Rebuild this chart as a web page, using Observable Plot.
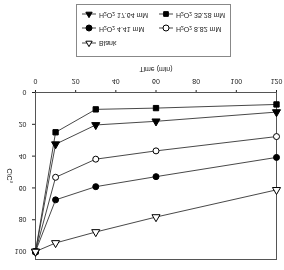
<!DOCTYPE html>
<html>
<head>
<meta charset="utf-8">
<script src="https://cdn.jsdelivr.net/npm/d3@7"></script>
<script src="https://cdn.jsdelivr.net/npm/@observablehq/plot@0.6"></script>
<style>
  html, body { margin: 0; padding: 0; background: #fff; overflow: hidden; }
  #wrap { position: relative; width: 284px; height: 270px; transform: scaleY(-1); font-family: "Liberation Sans", Arial, sans-serif; color: #222; }
  #chart { position: absolute; left: 0; top: 0; }
  #legend { position: absolute; left: 76px; top: 213px; width: 155px; height: 53px; border: 1px solid #888; box-sizing: border-box; background: #fff; }
  .item { position: absolute; display: flex; align-items: center; font-size: 7px; white-space: nowrap; line-height: 8px; }
  .item svg { margin-right: 3px; }
  sub { font-size: 5px; vertical-align: -1px; }
</style>
</head>
<body>
<div id="wrap">
  <div id="chart"></div>
  <div id="legend"></div>
</div>
<script>
// Data
const times = [0, 10, 30, 60, 120];
const seriesNames = ["H2O2 35.28 mM", "H2O2 17.64 mM", "H2O2 8.82 mM", "H2O2 4.41 mM", "Blank"];
const vals3528 = [100, 25.0, 10.6, 9.8, 7.5];
const vals1764 = [100, 32.5, 20.4, 18.1, 12.3];
const vals882  = [100, 53.3, 41.9, 36.7, 27.7];
const vals441  = [100, 67.5, 59.2, 52.9, 40.8];
const valsBlank = [100, 94.6, 87.7, 78.3, 61.2];
const xTicks = [0, 20, 40, 60, 80, 100, 120];
const yTicks = [0, 20, 40, 60, 80, 100];

// Styles
const seriesValues = [vals3528, vals1764, vals882, vals441, valsBlank];
const symbols = ["square", "triangle", "circle", "circle", "triangle"];
const fills = ["#000", "#000", "#fff", "#000", "#fff"];

const rows = [];
seriesNames.forEach((s, i) => {
  times.forEach((t, j) => rows.push({s, t, v: seriesValues[i][j], f: fills[i]}));
});

const chart = Plot.plot({
  width: 284,
  height: 210,
  marginLeft: 35,
  marginRight: 8,
  marginTop: 10,
  marginBottom: 33,
  style: {fontFamily: "'Liberation Sans', Arial, sans-serif", fontSize: "7px", background: "#fff", color: "#222"},
  x: {domain: [0, 120], ticks: xTicks, tickSize: 3, label: "Time (min)", labelAnchor: "center", labelArrow: "none", labelOffset: 25},
  y: {domain: [0, 105], ticks: yTicks, tickSize: 3, label: "C/C₀", labelAnchor: "center", labelArrow: "none", labelOffset: 28},
  symbol: {domain: seriesNames, range: symbols},
  color: {type: "identity"},
  marks: [
    Plot.frame({stroke: "#555"}),
    Plot.line(rows, {x: "t", y: "v", z: "s", stroke: "#333", strokeWidth: 0.9}),
    Plot.dot(rows, {x: "t", y: "v", symbol: "s", fill: "f", stroke: "#000", strokeWidth: 1, r: 3})
  ]
});
document.getElementById("chart").appendChild(chart);

// Legend
const symMap = {square: d3.symbolSquare2, triangle: d3.symbolTriangle2, circle: d3.symbolCircle};
const legendLayout = [
  {i: 4, left: 5, top: 9},
  {i: 3, left: 5, top: 23}, {i: 2, left: 82, top: 23},
  {i: 1, left: 5, top: 37}, {i: 0, left: 82, top: 37}
];
const legend = document.getElementById("legend");
legendLayout.forEach(({i, left, top}) => {
  const div = document.createElement("div");
  div.className = "item";
  div.style.left = left + "px";
  div.style.top = top + "px";
  const svg = d3.create("svg").attr("width", 14).attr("height", 8);
  svg.append("line").attr("x1", 0).attr("x2", 14).attr("y1", 4).attr("y2", 4).attr("stroke", "#333").attr("stroke-width", 0.9);
  svg.append("path").attr("transform", "translate(7,4)")
    .attr("d", d3.symbol(symMap[symbols[i]], Math.PI * 9)())
    .attr("fill", fills[i]).attr("stroke", "#000").attr("stroke-width", 1);
  div.appendChild(svg.node());
  const span = document.createElement("span");
  const name = seriesNames[i];
  span.innerHTML = name.startsWith("H2O2") ? "H<sub>2</sub>O<sub>2</sub>" + name.slice(4) : name;
  div.appendChild(span);
  legend.appendChild(div);
});
</script>
</body>
</html>
